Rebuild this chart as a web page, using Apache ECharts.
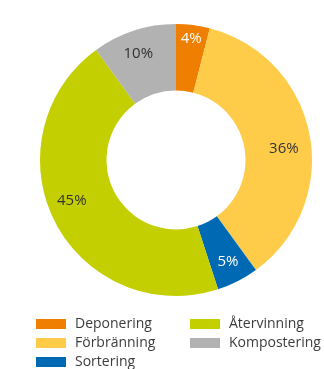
<!DOCTYPE html>
<html>
<head>
<meta charset="utf-8">
<script src="https://cdn.jsdelivr.net/npm/echarts@6/dist/echarts.min.js"></script>
<style>
html,body{margin:0;padding:0;background:#fff;}
#c{width:324px;height:369px;}
</style>
</head>
<body>
<div id="c"></div>
<script>
var categories = ['Deponering', 'Förbränning', 'Sortering', 'Återvinning', 'Kompostering'];
var values = [4, 36, 5, 45, 10];
var legendCol1 = ['Deponering', 'Förbränning', 'Sortering'];
var legendCol2 = ['Återvinning', 'Kompostering'];

var colors = ['#EE7F00', '#FFCC4A', '#0069B4', '#C3CF00', '#B2B2B2'];
var labelColors = ['#ffffff', '#333333', '#ffffff', '#333333', '#333333'];
var labelOffsets = [[2, -16], [4, 9], [4, 8], [-10, -7], [-5, -6]];

var font = '"Open Sans", sans-serif';
var data = categories.map(function (name, i) {
  return {
    name: name,
    value: values[i],
    itemStyle: { color: colors[i] },
    label: { color: labelColors[i], offset: labelOffsets[i] }
  };
});

var legendBase = {
  orient: 'vertical',
  icon: 'rect',
  itemWidth: 30,
  itemHeight: 10,
  itemGap: 5,
  height: 120,
  padding: 0,
  selectedMode: false,
  textStyle: { fontFamily: font, fontSize: 14, color: '#3c3c3c', lineHeight: 14, padding: [0, 0, 0, 4] }
};

var chart = echarts.init(document.getElementById('c'), null, { renderer: 'canvas' });
chart.setOption({
  animation: false,
  color: colors,
  legend: [
    Object.assign({}, legendBase, { data: legendCol1, left: 36, top: 317 }),
    Object.assign({}, legendBase, { data: legendCol2, left: 190, top: 317 })
  ],
  series: [{
    type: 'pie',
    center: [176, 160],
    radius: [69.5, 136],
    startAngle: 90,
    clockwise: true,
    avoidLabelOverlap: false,
    label: {
      show: true,
      position: 'inside',
      formatter: '{c}%',
      fontFamily: font,
      fontSize: 15
    },
    labelLine: { show: false },
    emphasis: { disabled: true },
    itemStyle: { borderWidth: 0 },
    data: data
  }]
});
</script>
</body>
</html>
